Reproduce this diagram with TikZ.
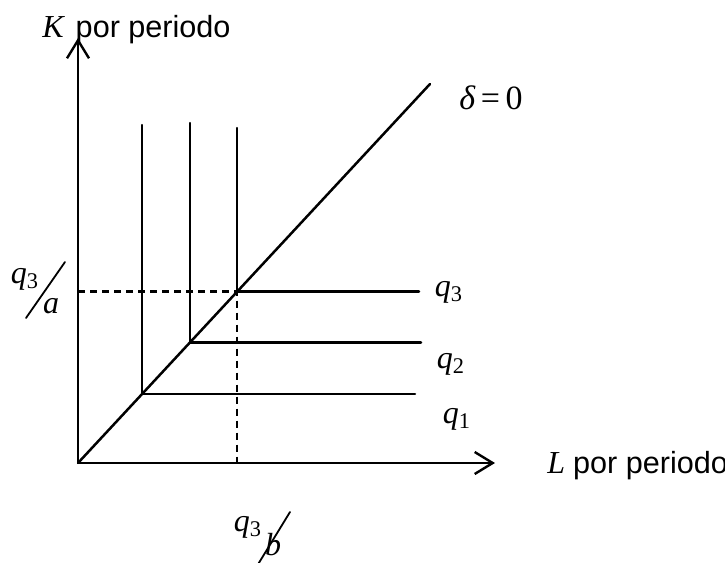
\documentclass[tikz,border=0pt]{standalone}
\usepackage{fontspec}
\setmainfont{Liberation Sans}
\newfontfamily\tms{Liberation Serif}
\usetikzlibrary{arrows.meta}

% italic letter of the diagram, with an upright index
\newcommand{\ivar}[2]{{\tms\itshape #1}\textsubscript{\tms #2}}

\begin{document}
\begin{tikzpicture}[x=0.5pt,y=-0.5pt,line cap=round,line join=round,
        axis/.style={line width=1.2pt,-{Straight Barb[length=9pt,width=11pt,line width=1.2pt]}},
        iso/.style={line width=1.25pt},
        guide/.style={line width=1.1pt,dash pattern=on 3.5pt off 2.5pt,line cap=butt},
        lbl/.style={font=\fontsize{15.3}{18}\selectfont,inner sep=0pt},
        mlbl/.style={font=\tms\fontsize{16}{18}\selectfont,inner sep=0pt}]
        \useasboundingbox (0,0) rectangle (725,563);
        % origin and ends of the axes
        \coordinate (O) at (78,463);
        \coordinate (Ktop) at (78,38);
        \coordinate (Lend) at (495,463);
        \coordinate (D) at (430,84);
        % corners on the ray delta=0
        \coordinate (A1) at (142,394);
        \coordinate (A2) at (190,342.5);
        \coordinate (A3) at (237,291.5);
        \draw[axis] (O) -- (Ktop);
        \draw[axis] (O) -- (Lend);
        \draw[iso] (O) -- (D);
        \draw[iso] (142,125) -- (A1) -- (415,394);
        \draw[iso] (190,123) -- (A2) -- (421,342.5);
        \draw[iso] (237,128) -- (A3) -- (419,291.5);
        \draw[guide] (O |- A3) -- (A3) -- (A3 |- O);
        % labels
        \node[lbl,anchor=base west] (Klbl) at (42,37) {{\tms\itshape\fontsize{16}{18}\selectfont K}\hspace{6pt}por periodo};
        \node[lbl,anchor=base west] (Llbl) at (547,473) {{\tms\itshape\fontsize{16}{18}\selectfont L}\hspace{4pt}por periodo};
        \node[mlbl,font=\tms\fontsize{17}{19}\selectfont] (dlt) at (491,98) {{\itshape δ}\,=\,0};
        \node[mlbl] (q3) at (449,292) {\ivar{q}{3}};
        \node[mlbl] (q2) at (451,364) {\ivar{q}{2}};
        \node[mlbl] (q1) at (457,419) {\ivar{q}{1}};
        \node[mlbl] (qa) at (25,279) {\ivar{q}{3}};
        \node[mlbl] (a) at (51,306) {\itshape a};
        \draw[line width=0.9pt] (26,318) -- (65,262);
        \node[mlbl] (qb) at (248,527) {\ivar{q}{3}};
        \node[mlbl] (b) at (273,545) {\itshape b};
        \draw[line width=0.9pt] (257,566) -- (290,512);
\end{tikzpicture}
\end{document}
